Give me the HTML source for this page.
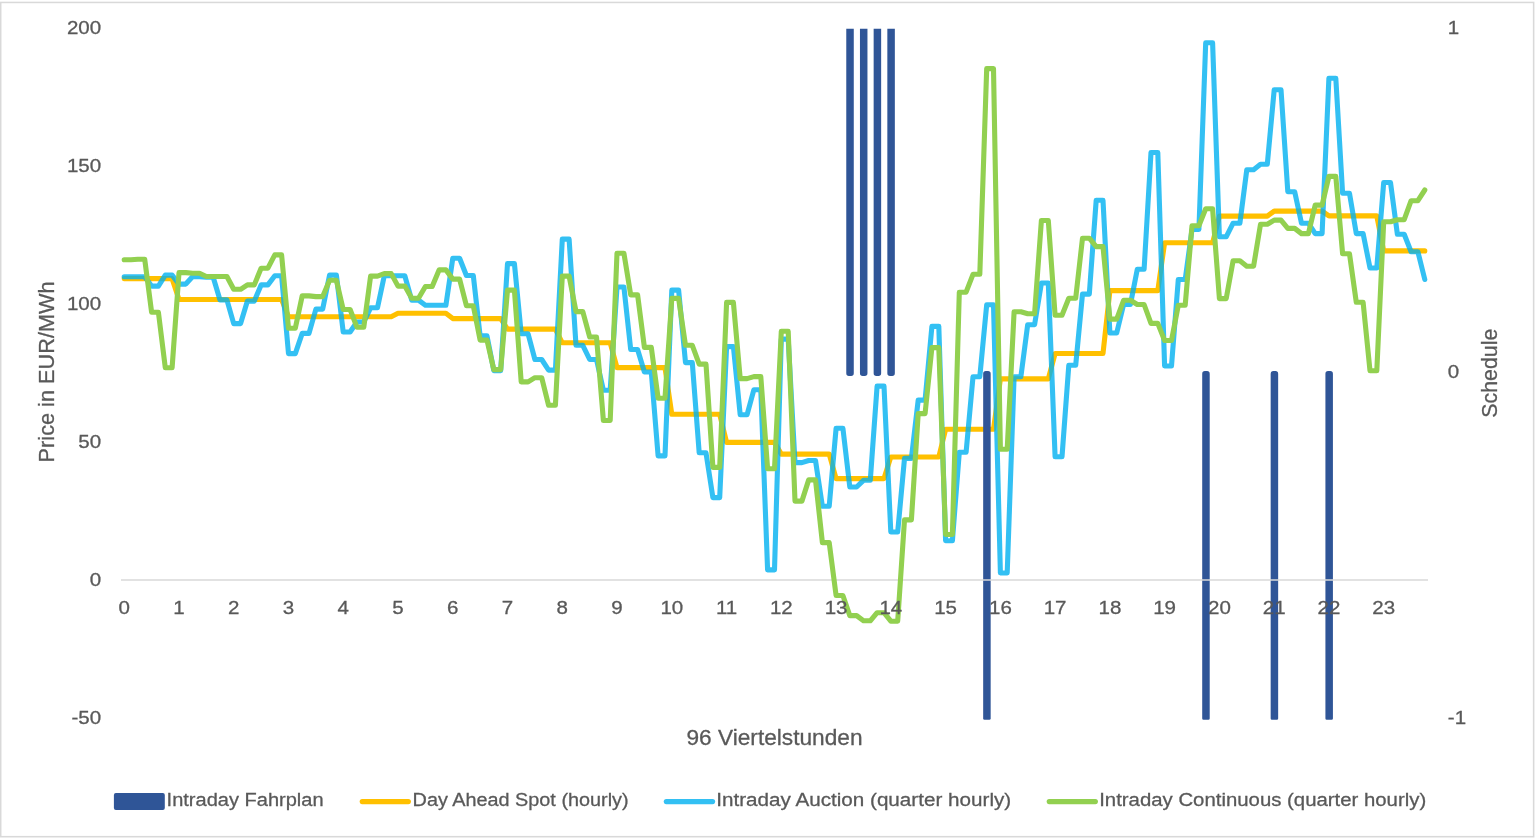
<!DOCTYPE html>
<html><head><meta charset="utf-8"><title>Chart</title>
<style>
html,body{margin:0;padding:0;background:#fff;}
body{width:1536px;height:840px;overflow:hidden;}
svg{display:block;will-change:transform;}
text{font-family:"Liberation Sans",Arial,sans-serif;fill:#595959;stroke:#595959;stroke-width:0.3px;}
.t{font-size:19.2px;}
.ax{font-size:22.4px;}
.ln{fill:none;stroke-linejoin:round;stroke-linecap:round;stroke-width:5.1;}
</style></head><body>
<svg width="1536" height="840" viewBox="0 0 1536 840">
<rect x="0" y="0" width="1536" height="840" fill="#fff"/>
<rect x="0.7" y="2.45" width="1532.95" height="834.25" fill="#fff" stroke="#D9D9D9" stroke-width="1.55"/>
<polyline class="ln" stroke="#FFC000" points="124.2,278.6 131.0,278.6 137.9,278.6 144.7,278.6 151.6,278.6 158.4,278.6 165.3,278.6 172.1,278.6 179.0,299.5 185.8,299.5 192.7,299.5 199.5,299.5 206.3,299.5 213.2,299.5 220.0,299.5 226.9,299.5 233.7,299.5 240.6,299.5 247.4,299.5 254.3,299.5 261.1,299.5 267.9,299.5 274.8,299.5 281.6,299.5 288.5,316.8 295.3,316.8 302.2,316.8 309.0,316.8 315.9,316.8 322.7,316.8 329.6,316.8 336.4,316.8 343.2,316.8 350.1,316.8 356.9,316.8 363.8,316.8 370.6,316.8 377.5,316.8 384.3,316.8 391.2,316.8 398.0,313.3 404.8,313.3 411.7,313.3 418.5,313.3 425.4,313.3 432.2,313.3 439.1,313.3 445.9,313.3 452.8,318.6 459.6,318.6 466.4,318.6 473.3,318.6 480.1,318.6 487.0,318.6 493.8,318.6 500.7,318.6 507.5,329.1 514.4,329.1 521.2,329.1 528.1,329.1 534.9,329.1 541.7,329.1 548.6,329.1 555.4,329.1 562.3,342.8 569.1,342.8 576.0,342.8 582.8,342.8 589.7,342.8 596.5,342.8 603.4,342.8 610.2,342.8 617.0,367.6 623.9,367.6 630.7,367.6 637.6,367.6 644.4,367.6 651.3,367.6 658.1,367.6 665.0,367.6 671.8,414.3 678.6,414.3 685.5,414.3 692.3,414.3 699.2,414.3 706.0,414.3 712.9,414.3 719.7,414.3 726.6,442.4 733.4,442.4 740.2,442.4 747.1,442.4 753.9,442.4 760.8,442.4 767.6,442.4 774.5,442.4 781.3,454.1 788.2,454.1 795.0,454.1 801.9,454.1 808.7,454.1 815.5,454.1 822.4,454.1 829.2,454.1 836.1,478.6 842.9,478.6 849.8,478.6 856.6,478.6 863.5,478.6 870.3,478.6 877.1,478.6 884.0,478.6 890.8,457.0 897.7,457.0 904.5,457.0 911.4,457.0 918.2,457.0 925.1,457.0 931.9,457.0 938.8,457.0 945.6,429.3 952.4,429.3 959.3,429.3 966.1,429.3 973.0,429.3 979.8,429.3 986.7,429.3 993.5,429.3 1000.4,378.9 1007.2,378.9 1014.1,378.9 1020.9,378.9 1027.7,378.9 1034.6,378.9 1041.4,378.9 1048.3,378.9 1055.1,353.5 1062.0,353.5 1068.8,353.5 1075.7,353.5 1082.5,353.5 1089.3,353.5 1096.2,353.5 1103.0,353.5 1109.9,290.6 1116.7,290.6 1123.6,290.6 1130.4,290.6 1137.3,290.6 1144.1,290.6 1151.0,290.6 1157.8,290.6 1164.6,242.8 1171.5,242.8 1178.3,242.8 1185.2,242.8 1192.0,242.8 1198.9,242.8 1205.7,242.8 1212.6,242.8 1219.4,216.1 1226.2,216.1 1233.1,216.1 1239.9,216.1 1246.8,216.1 1253.6,216.1 1260.5,216.1 1267.3,216.1 1274.2,211.1 1281.0,211.1 1287.8,211.1 1294.7,211.1 1301.5,211.1 1308.4,211.1 1315.2,211.1 1322.1,211.1 1328.9,215.9 1335.8,215.9 1342.6,215.9 1349.5,215.9 1356.3,215.9 1363.1,215.9 1370.0,215.9 1376.8,215.9 1383.7,250.9 1390.5,250.9 1397.4,250.9 1404.2,250.9 1411.1,250.9 1417.9,250.9 1424.8,250.9"/>
<g fill="#2F5597"><path d="M846.27 28.70H853.77V373.20A2.70 2.70 0 0 1 851.07 375.90H848.97A2.70 2.70 0 0 1 846.27 373.20V28.70Z"/><path d="M859.96 28.70H867.46V373.20A2.70 2.70 0 0 1 864.76 375.90H862.66A2.70 2.70 0 0 1 859.96 373.20V28.70Z"/><path d="M873.65 28.70H881.15V373.20A2.70 2.70 0 0 1 878.45 375.90H876.35A2.70 2.70 0 0 1 873.65 373.20V28.70Z"/><path d="M887.34 28.70H894.84V373.20A2.70 2.70 0 0 1 892.14 375.90H890.04A2.70 2.70 0 0 1 887.34 373.20V28.70Z"/><path d="M985.87 371.00H987.97A2.70 2.70 0 0 1 990.67 373.70V718.40A1.30 1.30 0 0 1 989.37 719.70H984.47A1.30 1.30 0 0 1 983.17 718.40V373.70A2.70 2.70 0 0 1 985.87 371.00Z"/><path d="M1204.91 371.00H1207.01A2.70 2.70 0 0 1 1209.71 373.70V718.40A1.30 1.30 0 0 1 1208.41 719.70H1203.51A1.30 1.30 0 0 1 1202.21 718.40V373.70A2.70 2.70 0 0 1 1204.91 371.00Z"/><path d="M1273.36 371.00H1275.46A2.70 2.70 0 0 1 1278.16 373.70V718.40A1.30 1.30 0 0 1 1276.86 719.70H1271.96A1.30 1.30 0 0 1 1270.66 718.40V373.70A2.70 2.70 0 0 1 1273.36 371.00Z"/><path d="M1328.12 371.00H1330.22A2.70 2.70 0 0 1 1332.92 373.70V718.40A1.30 1.30 0 0 1 1331.62 719.70H1326.72A1.30 1.30 0 0 1 1325.42 718.40V373.70A2.70 2.70 0 0 1 1328.12 371.00Z"/></g>
<line x1="121" y1="580.1" x2="1428" y2="580.1" stroke="#D9D9D9" stroke-width="1.5"/>
<polyline class="ln" stroke="#00B0F0" stroke-opacity="0.8" points="124.2,276.8 131.0,276.8 137.9,276.8 144.7,276.8 151.6,286.1 158.4,286.1 165.3,275.1 172.1,275.1 179.0,284.1 185.8,284.1 192.7,276.6 199.5,276.6 206.3,277.2 213.2,277.2 220.0,299.9 226.9,299.9 233.7,323.6 240.6,323.6 247.4,301.1 254.3,301.1 261.1,284.9 267.9,284.9 274.8,275.7 281.6,275.7 288.5,353.6 295.3,353.6 302.2,333.4 309.0,333.4 315.9,309.1 322.7,309.1 329.6,275.1 336.4,275.1 343.2,332.0 350.1,332.0 356.9,322.0 363.8,322.0 370.6,307.8 377.5,307.8 384.3,275.7 391.2,275.7 398.0,275.7 404.8,275.7 411.7,300.1 418.5,300.1 425.4,305.3 432.2,305.3 439.1,305.3 445.9,305.3 452.8,258.2 459.6,258.2 466.4,275.5 473.3,275.5 480.1,335.9 487.0,335.9 493.8,370.6 500.7,370.6 507.5,263.6 514.4,263.6 521.2,333.8 528.1,333.8 534.9,359.5 541.7,359.5 548.6,370.1 555.4,370.1 562.3,239.1 569.1,239.1 576.0,345.3 582.8,345.3 589.7,359.5 596.5,359.5 603.4,390.2 610.2,390.2 617.0,287.0 623.9,287.0 630.7,349.5 637.6,349.5 644.4,372.0 651.3,372.0 658.1,455.9 665.0,455.9 671.8,290.1 678.6,290.1 685.5,362.6 692.3,362.6 699.2,452.8 706.0,452.8 712.9,497.6 719.7,497.6 726.6,346.6 733.4,346.6 740.2,414.7 747.1,414.7 753.9,389.7 760.8,389.7 767.6,569.9 774.5,569.9 781.3,339.1 788.2,339.1 795.0,462.6 801.9,462.6 808.7,460.5 815.5,460.5 822.4,506.3 829.2,506.3 836.1,428.2 842.9,428.2 849.8,487.0 856.6,487.0 863.5,480.3 870.3,480.3 877.1,386.1 884.0,386.1 890.8,532.0 897.7,532.0 904.5,458.4 911.4,458.4 918.2,400.1 925.1,400.1 931.9,326.4 938.8,326.4 945.6,540.7 952.4,540.7 959.3,452.2 966.1,452.2 973.0,376.7 979.8,376.7 986.7,304.7 993.5,304.7 1000.4,573.0 1007.2,573.0 1014.1,376.7 1020.9,376.7 1027.7,324.7 1034.6,324.7 1041.4,283.0 1048.3,283.0 1055.1,456.8 1062.0,456.8 1068.8,365.3 1075.7,365.3 1082.5,294.1 1089.3,294.1 1096.2,200.3 1103.0,200.3 1109.9,333.0 1116.7,333.0 1123.6,304.5 1130.4,304.5 1137.3,269.3 1144.1,269.3 1151.0,152.5 1157.8,152.5 1164.6,366.0 1171.5,366.0 1178.3,279.5 1185.2,279.5 1192.0,229.5 1198.9,229.5 1205.7,42.8 1212.6,42.8 1219.4,236.8 1226.2,236.8 1233.1,223.2 1239.9,223.2 1246.8,169.7 1253.6,169.7 1260.5,164.3 1267.3,164.3 1274.2,89.7 1281.0,89.7 1287.8,191.7 1294.7,191.7 1301.5,223.2 1308.4,223.2 1315.2,233.6 1322.1,233.6 1328.9,78.2 1335.8,78.2 1342.6,193.3 1349.5,193.3 1356.3,233.6 1363.1,233.6 1370.0,268.0 1376.8,268.0 1383.7,182.5 1390.5,182.5 1397.4,234.3 1404.2,234.3 1411.1,251.8 1417.9,251.8 1424.8,279.5"/>
<polyline class="ln" stroke="#92D050" points="124.2,259.7 131.0,259.7 137.9,259.2 144.7,259.2 151.6,312.2 158.4,312.2 165.3,367.8 172.1,367.8 179.0,272.6 185.8,272.6 192.7,273.2 199.5,273.2 206.3,276.5 213.2,276.5 220.0,276.5 226.9,276.5 233.7,289.3 240.6,289.3 247.4,284.9 254.3,284.9 261.1,268.2 267.9,268.2 274.8,254.9 281.6,254.9 288.5,328.2 295.3,328.2 302.2,295.9 309.0,295.9 315.9,296.6 322.7,296.6 329.6,280.3 336.4,280.3 343.2,309.5 350.1,309.5 356.9,327.2 363.8,327.2 370.6,276.1 377.5,276.1 384.3,273.6 391.2,273.6 398.0,286.1 404.8,286.1 411.7,298.2 418.5,298.2 425.4,286.5 432.2,286.5 439.1,269.9 445.9,269.9 452.8,279.1 459.6,279.1 466.4,305.7 473.3,305.7 480.1,340.1 487.0,340.1 493.8,369.6 500.7,369.6 507.5,290.1 514.4,290.1 521.2,381.9 528.1,381.9 534.9,377.7 541.7,377.7 548.6,405.3 555.4,405.3 562.3,276.1 569.1,276.1 576.0,311.6 582.8,311.6 589.7,337.0 596.5,337.0 603.4,420.5 610.2,420.5 617.0,253.2 623.9,253.2 630.7,294.9 637.6,294.9 644.4,347.4 651.3,347.4 658.1,398.2 665.0,398.2 671.8,298.4 678.6,298.4 685.5,345.3 692.3,345.3 699.2,364.1 706.0,364.1 712.9,467.4 719.7,467.4 726.6,302.4 733.4,302.4 740.2,378.6 747.1,378.6 753.9,376.6 760.8,376.6 767.6,468.8 774.5,468.8 781.3,331.3 788.2,331.3 795.0,501.1 801.9,501.1 808.7,479.9 815.5,479.9 822.4,542.6 829.2,542.6 836.1,595.5 842.9,595.5 849.8,615.6 856.6,615.6 863.5,620.8 870.3,620.8 877.1,612.7 884.0,612.7 890.8,621.2 897.7,621.2 904.5,519.9 911.4,519.9 918.2,413.6 925.1,413.6 931.9,347.6 938.8,347.6 945.6,534.5 952.4,534.5 959.3,292.2 966.1,292.2 973.0,274.3 979.8,274.3 986.7,68.6 993.5,68.6 1000.4,449.3 1007.2,449.3 1014.1,311.7 1020.9,311.7 1027.7,313.7 1034.6,313.7 1041.4,220.5 1048.3,220.5 1055.1,315.3 1062.0,315.3 1068.8,298.2 1075.7,298.2 1082.5,238.2 1089.3,238.2 1096.2,246.6 1103.0,246.6 1109.9,319.1 1116.7,319.1 1123.6,300.3 1130.4,300.3 1137.3,304.5 1144.1,304.5 1151.0,323.4 1157.8,323.4 1164.6,340.5 1171.5,340.5 1178.3,305.2 1185.2,305.2 1192.0,225.8 1198.9,225.8 1205.7,208.8 1212.6,208.8 1219.4,298.6 1226.2,298.6 1233.1,260.7 1239.9,260.7 1246.8,266.2 1253.6,266.2 1260.5,224.3 1267.3,224.3 1274.2,220.1 1281.0,220.1 1287.8,228.4 1294.7,228.4 1301.5,233.6 1308.4,233.6 1315.2,205.1 1322.1,205.1 1328.9,176.4 1335.8,176.4 1342.6,253.8 1349.5,253.8 1356.3,302.3 1363.1,302.3 1370.0,370.8 1376.8,370.8 1383.7,221.8 1390.5,221.8 1397.4,219.7 1404.2,219.7 1411.1,200.7 1417.9,200.7 1424.8,190.0"/>
<g class="t"><text transform="translate(101.2,33.7) scale(1.07,1)" text-anchor="end">200</text><text transform="translate(101.2,171.7) scale(1.07,1)" text-anchor="end">150</text><text transform="translate(101.2,309.7) scale(1.07,1)" text-anchor="end">100</text><text transform="translate(101.2,447.7) scale(1.07,1)" text-anchor="end">50</text><text transform="translate(101.2,585.7) scale(1.07,1)" text-anchor="end">0</text><text transform="translate(101.2,723.8) scale(1.07,1)" text-anchor="end">-50</text><text transform="translate(1447.8,33.8) scale(1.07,1)">1</text><text transform="translate(1447.8,378.2) scale(1.07,1)">0</text><text transform="translate(1447.8,723.9) scale(1.07,1)">-1</text><text transform="translate(124.2,613.7) scale(1.07,1)" text-anchor="middle">0</text><text transform="translate(179.0,613.7) scale(1.07,1)" text-anchor="middle">1</text><text transform="translate(233.7,613.7) scale(1.07,1)" text-anchor="middle">2</text><text transform="translate(288.5,613.7) scale(1.07,1)" text-anchor="middle">3</text><text transform="translate(343.2,613.7) scale(1.07,1)" text-anchor="middle">4</text><text transform="translate(398.0,613.7) scale(1.07,1)" text-anchor="middle">5</text><text transform="translate(452.8,613.7) scale(1.07,1)" text-anchor="middle">6</text><text transform="translate(507.5,613.7) scale(1.07,1)" text-anchor="middle">7</text><text transform="translate(562.3,613.7) scale(1.07,1)" text-anchor="middle">8</text><text transform="translate(617.0,613.7) scale(1.07,1)" text-anchor="middle">9</text><text transform="translate(671.8,613.7) scale(1.07,1)" text-anchor="middle">10</text><text transform="translate(726.6,613.7) scale(1.07,1)" text-anchor="middle">11</text><text transform="translate(781.3,613.7) scale(1.07,1)" text-anchor="middle">12</text><text transform="translate(836.1,613.7) scale(1.07,1)" text-anchor="middle">13</text><text transform="translate(890.8,613.7) scale(1.07,1)" text-anchor="middle">14</text><text transform="translate(945.6,613.7) scale(1.07,1)" text-anchor="middle">15</text><text transform="translate(1000.4,613.7) scale(1.07,1)" text-anchor="middle">16</text><text transform="translate(1055.1,613.7) scale(1.07,1)" text-anchor="middle">17</text><text transform="translate(1109.9,613.7) scale(1.07,1)" text-anchor="middle">18</text><text transform="translate(1164.6,613.7) scale(1.07,1)" text-anchor="middle">19</text><text transform="translate(1219.4,613.7) scale(1.07,1)" text-anchor="middle">20</text><text transform="translate(1274.2,613.7) scale(1.07,1)" text-anchor="middle">21</text><text transform="translate(1328.9,613.7) scale(1.07,1)" text-anchor="middle">22</text><text transform="translate(1383.7,613.7) scale(1.07,1)" text-anchor="middle">23</text></g>
<text class="ax" transform="translate(54,462.4) rotate(-90)" textLength="181" lengthAdjust="spacingAndGlyphs">Price in EUR/MWh</text>
<text class="ax" transform="translate(1497.4,417.7) rotate(-90)" textLength="89" lengthAdjust="spacingAndGlyphs">Schedule</text>
<text class="ax" x="686.5" y="744.9" textLength="176" lengthAdjust="spacingAndGlyphs">96 Viertelstunden</text>
<rect x="113.9" y="793" width="50.9" height="17" rx="2" ry="2" fill="#2F5597"/>
<line class="ln" x1="362.2" y1="801.6" x2="408.4" y2="801.6" stroke="#FFC000"/>
<line class="ln" x1="666.3" y1="801.6" x2="712.6" y2="801.6" stroke="#00B0F0" stroke-opacity="0.8"/>
<line class="ln" x1="1049.2" y1="801.6" x2="1095.4" y2="801.6" stroke="#92D050"/>
<g class="t">
<text x="166.6" y="806.3" textLength="157" lengthAdjust="spacingAndGlyphs">Intraday Fahrplan</text>
<text x="412.6" y="806.3" textLength="216" lengthAdjust="spacingAndGlyphs">Day Ahead Spot (hourly)</text>
<text x="716.2" y="806.3" textLength="295" lengthAdjust="spacingAndGlyphs">Intraday Auction (quarter hourly)</text>
<text x="1099.2" y="806.3" textLength="327" lengthAdjust="spacingAndGlyphs">Intraday Continuous (quarter hourly)</text>
</g>
</svg>
</body></html>
